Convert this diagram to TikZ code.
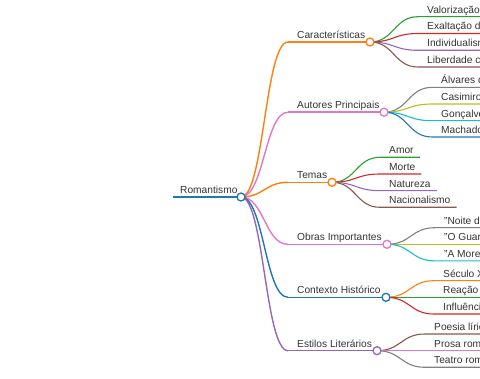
\documentclass[tikz,border=0pt]{standalone}
\usepackage{fontspec}
\setmainfont{Liberation Sans}
\definecolor{mblue}{HTML}{1F77B4}
\definecolor{morange}{HTML}{FF7F0E}
\definecolor{mgreen}{HTML}{2CA02C}
\definecolor{mred}{HTML}{D62728}
\definecolor{mpurple}{HTML}{9467BD}
\definecolor{mbrown}{HTML}{8C564B}
\definecolor{mpink}{HTML}{E377C2}
\definecolor{mgray}{HTML}{7F7F7F}
\definecolor{molive}{HTML}{BCBD22}
\definecolor{mcyan}{HTML}{17BECF}
\tikzset{romap/.style={x=1pt,y=-1pt,font=\fontsize{10.2}{12}\selectfont},
  lbl/.style={anchor=south west,inner sep=0pt,text=black!80,text height=7.6pt,text depth=3.3pt},
  knob/.style={circle,fill=white,inner sep=0pt,minimum size=8pt,line width=1.3pt},
  trunk/.style={line width=1.8pt},
  twig/.style={line width=1.4pt},
  leafln/.style={line width=1.1pt}}

\begin{document}
\begin{tikzpicture}[romap]
    \path[use as bounding box] (0,0) rectangle (480,379);
    \clip (0,0) rectangle (480,379);
    % root
    \node[lbl] (root) at (180,197) {Romantismo};
    \draw[mblue,trunk] ([xshift=-7pt]root.south west) -- (241,197) coordinate (root-e);
    % branches
    \foreach \n/\t/\y/\cx/\c in {car/Características/42/370/morange, aut/Autores Principais/112.2/384/mpink,
        tem/Temas/182.3/332/morange, obr/Obras Importantes/244.3/387/mpink,
        ctx/Contexto Histórico/297.3/386/mblue, est/Estilos Literários/350.7/377/mpurple} {
      \node[lbl] (\n) at (297,\y) {\t};
      \draw[\c,twig] (root-e) .. controls +(23,0) and +(-23,0) .. ([xshift=-9pt]\n.south west);
      \draw[\c,twig] ([xshift=-9pt]\n.south west) -- (\cx,\y) coordinate (\n-e);
    }
    % leaves
    \foreach \t/\y/\c [count=\i] in {Valorização/16.7/mgreen, Exaltação d/33.5/mred,
        Individualism/50.3/mpurple, Liberdade c/67/mbrown} {
      \node[lbl] (car-\i) at (427,\y) {\t};
      \draw[\c,leafln] (car-e) .. controls +(24,0) and +(-24,0) .. ([xshift=-9pt]car-\i.south west)
        -- ([xshift=6pt]car-\i.south east);
    }
    \foreach \t/\y/\c [count=\i] in {Álvares d/87.4/mgray, Casimiro/104/molive,
        Gonçalve/120.7/mcyan, Machado/137/mblue} {
      \node[lbl] (aut-\i) at (441,\y) {\t};
      \draw[\c,leafln] (aut-e) .. controls +(24,0) and +(-24,0) .. ([xshift=-9pt]aut-\i.south west)
        -- ([xshift=6pt]aut-\i.south east);
    }
    \foreach \t/\y/\c [count=\i] in {Amor/157.3/mgreen, Morte/174/mred,
        Natureza/190.7/mpurple, Nacionalismo/207.3/mbrown} {
      \node[lbl] (tem-\i) at (389,\y) {\t};
      \draw[\c,leafln] (tem-e) .. controls +(24,0) and +(-24,0) .. ([xshift=-9pt]tem-\i.south west)
        -- ([xshift=6pt]tem-\i.south east);
    }
    \foreach \t/\y/\c [count=\i] in {"Noite de/227.7/mgray, "O Guar/244.3/molive, "A Moren/260.9/mcyan} {
      \node[lbl] (obr-\i) at (444,\y) {\t};
      \draw[\c,leafln] (obr-e) .. controls +(24,0) and +(-24,0) .. ([xshift=-9pt]obr-\i.south west)
        -- ([xshift=6pt]obr-\i.south east);
    }
    \foreach \t/\y/\c [count=\i] in {Século X/280.7/morange, Reação/297.3/mgreen, Influênci/314/mred} {
      \node[lbl] (ctx-\i) at (443,\y) {\t};
      \draw[\c,leafln] (ctx-e) .. controls +(24,0) and +(-24,0) .. ([xshift=-9pt]ctx-\i.south west)
        -- ([xshift=6pt]ctx-\i.south east);
    }
    \foreach \t/\y/\c [count=\i] in {Poesia líric/334/mbrown, Prosa rom/350.7/mpink, Teatro rom/367.3/mgray} {
      \node[lbl] (est-\i) at (434,\y) {\t};
      \draw[\c,leafln] (est-e) .. controls +(24,0) and +(-24,0) .. ([xshift=-9pt]est-\i.south west)
        -- ([xshift=6pt]est-\i.south east);
    }
    % knobs on top
    \node[knob,draw=mblue] (root-k) at (root-e) {};
    \foreach \n/\c in {car/morange,aut/mpink,tem/morange,obr/mpink,ctx/mblue,est/mpurple}
      \node[knob,draw=\c] (\n-k) at (\n-e) {};
\end{tikzpicture}
\end{document}
